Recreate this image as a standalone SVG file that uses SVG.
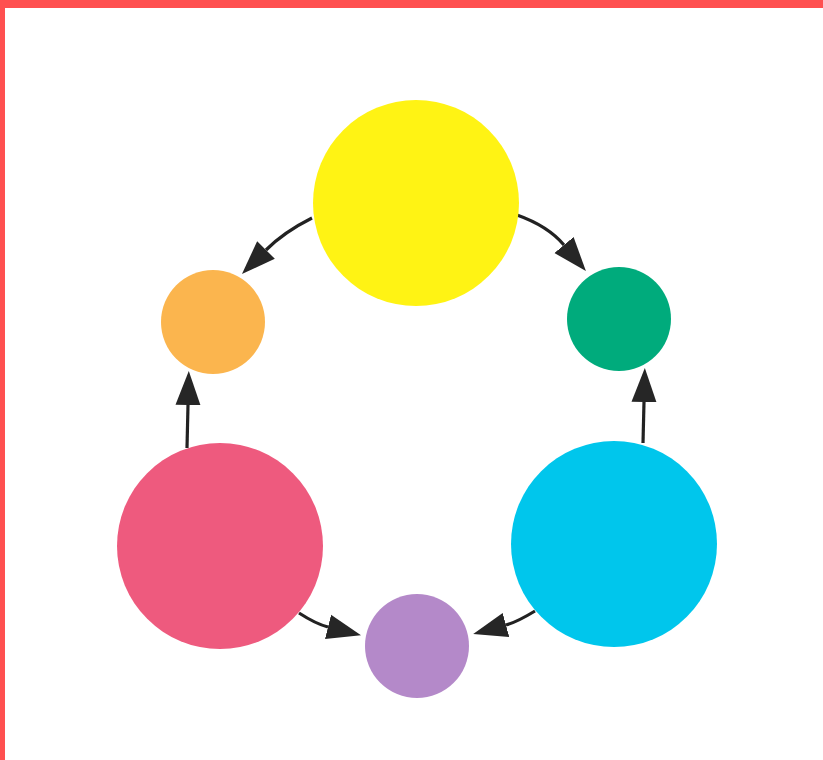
<svg xmlns="http://www.w3.org/2000/svg" width="823" height="760" viewBox="0 0 823 760">
<style>
.c{stroke:none}
.a{fill:none;stroke:#222;stroke-width:3.2;marker-end:url(#ah)}
</style>
<defs>
<marker id="ah" markerUnits="userSpaceOnUse" viewBox="0 -13 36 26" markerWidth="36" markerHeight="26" refX="0" refY="0" orient="auto">
<path d="M0,-12.5 L34,0 L0,12.5 Z" fill="#262626"/>
</marker>
</defs>
<rect x="0" y="0" width="823" height="760" fill="#ffffff"/>
<rect x="0" y="0" width="823" height="8" fill="#ff5050"/>
<rect x="0" y="0" width="5" height="760" fill="#ff5050"/>
<g id="connectors">
<path class="a" d="M312,218 Q284,232 266,250"/>
<path class="a" d="M517,215 Q548,226 564,245"/>
<path class="a" d="M187,448 L188,405"/>
<path class="a" d="M643,443 L644,402"/>
<path class="a" d="M299,613 Q316,624 328,627"/>
<path class="a" d="M535,611 Q517,622 506,625"/>
</g>
<g id="yellow"><circle class="c" cx="416" cy="203" r="103" fill="#fff314"/></g>
<g id="orange"><circle class="c" cx="213" cy="322" r="52" fill="#fbb54e"/></g>
<g id="green"><circle class="c" cx="619" cy="319" r="52" fill="#00ab7c"/></g>
<g id="pink"><circle class="c" cx="220" cy="546" r="103" fill="#ee5a7e"/></g>
<g id="cyan"><circle class="c" cx="614" cy="544" r="103" fill="#00c6ec"/></g>
<g id="purple"><circle class="c" cx="417" cy="646" r="52" fill="#b489c9"/></g>
</svg>
